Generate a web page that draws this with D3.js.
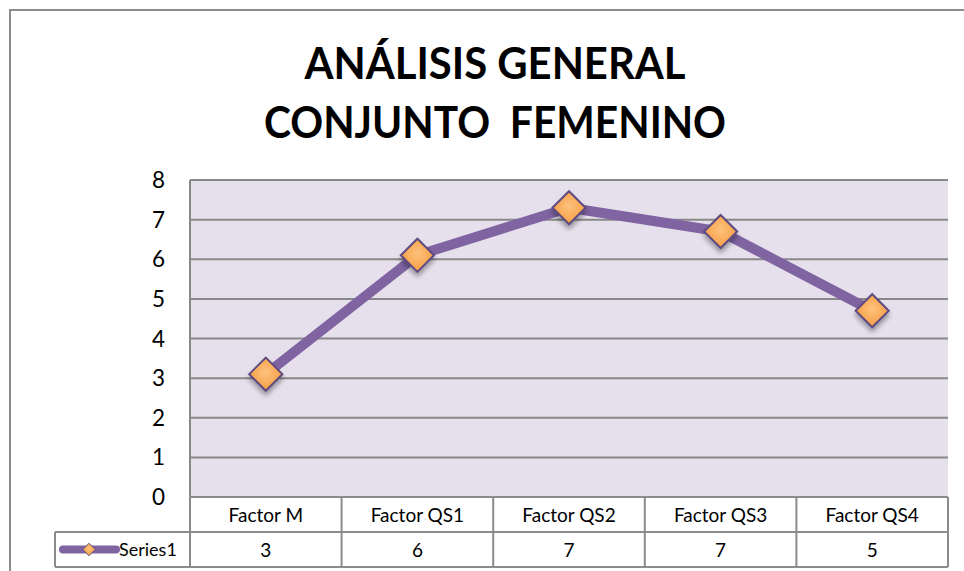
<!DOCTYPE html>
<html>
<head>
<meta charset="utf-8">
<script src="https://cdn.jsdelivr.net/npm/d3@7"></script>
<style>
  body { margin: 0; background: #fff; }
  svg { display: block; }
</style>
</head>
<body>
<script>
// chart data
var categories = ["Factor M", "Factor QS1", "Factor QS2", "Factor QS3", "Factor QS4"];
var seriesValues = [3.1, 6.1, 7.3, 6.7, 4.7];
var tableLabels = ["3", "6", "7", "7", "5"];
var yTicks = [0, 1, 2, 3, 4, 5, 6, 7, 8];
var seriesName = "Series1";
var titleLines = ["ANÁLISIS GENERAL", "CONJUNTO  FEMENINO"];

var W = 964, H = 571;
var plot = { left: 190, right: 948, top: 180, bottom: 497 };
var rowH = 35;
var font = "Lato, 'Open Sans', sans-serif";

var svg = d3.select("body").append("svg")
    .attr("width", W)
    .attr("height", H);

var defs = svg.append("defs");
var grad = defs.append("radialGradient").attr("id", "mk")
    .attr("cx", "50%").attr("cy", "45%").attr("r", "60%");
grad.append("stop").attr("offset", "0%").attr("stop-color", "#fdc27e");
grad.append("stop").attr("offset", "100%").attr("stop-color", "#f59a3c");
var shadow = defs.append("filter").attr("id", "sh")
    .attr("x", "-50%").attr("y", "-50%").attr("width", "200%").attr("height", "200%");
shadow.append("feGaussianBlur").attr("in", "SourceAlpha").attr("stdDeviation", 2.5);
shadow.append("feOffset").attr("dy", 4).attr("result", "b");
shadow.append("feComponentTransfer").append("feFuncA").attr("type", "linear").attr("slope", 0.35);
var merge = shadow.append("feMerge");
merge.append("feMergeNode");
merge.append("feMergeNode").attr("in", "SourceGraphic");

// outer chart border (runs past the window on right and bottom)
svg.append("rect")
    .attr("x", 10).attr("y", 10)
    .attr("width", 1000).attr("height", 700)
    .attr("fill", "none")
    .attr("stroke", "#8c8c8c")
    .attr("stroke-width", 2);

// title
var titleWidths = [381, 462];
svg.append("g").selectAll("text")
    .data(titleLines)
    .join("text")
    .attr("x", 495)
    .attr("y", function (d, i) { return 79 + i * 59; })
    .attr("text-anchor", "middle")
    .attr("font-family", font)
    .attr("font-weight", "bold")
    .attr("font-size", 44)
    .attr("fill", "#000")
    .attr("textLength", function (d, i) { return titleWidths[i]; })
    .attr("lengthAdjust", "spacingAndGlyphs")
    .style("white-space", "pre")
    .text(function (d) { return d; });

var x = d3.scaleBand()
    .domain(categories)
    .range([plot.left, plot.right]);

var y = d3.scaleLinear()
    .domain([0, 8])
    .range([plot.bottom, plot.top]);

// plot background
svg.append("rect")
    .attr("x", plot.left).attr("y", plot.top)
    .attr("width", plot.right - plot.left)
    .attr("height", plot.bottom - plot.top)
    .attr("fill", "#e5e0ec");

// gridlines
svg.append("g").selectAll("line")
    .data(yTicks.filter(function (d) { return d > 0; }))
    .join("line")
    .attr("x1", plot.left).attr("x2", plot.right)
    .attr("y1", function (d) { return y(d); })
    .attr("y2", function (d) { return y(d); })
    .attr("stroke", "#888")
    .attr("stroke-width", 2);

// left axis line
svg.append("line")
    .attr("x1", plot.left).attr("x2", plot.left)
    .attr("y1", plot.top).attr("y2", plot.bottom)
    .attr("stroke", "#888")
    .attr("stroke-width", 2);

// y tick labels
svg.append("g").selectAll("text")
    .data(yTicks)
    .join("text")
    .attr("x", 165)
    .attr("y", function (d) { return y(d) + 8; })
    .attr("text-anchor", "end")
    .attr("font-family", font)
    .attr("font-size", 22.5)
    .attr("fill", "#000")
    .text(function (d) { return d; });

// line
var line = d3.line()
    .x(function (d, i) { return x(categories[i]) + x.bandwidth() / 2; })
    .y(function (d) { return y(d); });

svg.append("path")
    .datum(seriesValues)
    .attr("d", line)
    .attr("fill", "none")
    .attr("stroke", "#8064a2")
    .attr("stroke-width", 10)
    .attr("stroke-linejoin", "round");

// markers
var diamond = d3.symbol().type(d3.symbolDiamond2).size(700);
svg.append("g").selectAll("path")
    .data(seriesValues)
    .join("path")
    .attr("transform", function (d, i) {
        return "translate(" + (x(categories[i]) + x.bandwidth() / 2) + "," + y(d) + ")";
    })
    .attr("d", diamond)
    .attr("fill", "url(#mk)")
    .attr("stroke", "#5e4a80")
    .attr("stroke-width", 2)
    .attr("filter", "url(#sh)");

// data table
var tbl = svg.append("g");
var r1 = plot.bottom, r2 = plot.bottom + rowH, r3 = plot.bottom + 2 * rowH;

tbl.append("g").selectAll("text")
    .data(categories)
    .join("text")
    .attr("x", function (d) { return x(d) + x.bandwidth() / 2; })
    .attr("y", r1 + 25)
    .attr("text-anchor", "middle")
    .attr("font-family", font)
    .attr("font-size", 19)
    .attr("fill", "#000")
    .text(function (d) { return d; });

tbl.append("g").selectAll("text")
    .data(tableLabels)
    .join("text")
    .attr("x", function (d, i) { return x(categories[i]) + x.bandwidth() / 2; })
    .attr("y", r2 + 25)
    .attr("text-anchor", "middle")
    .attr("font-family", font)
    .attr("font-size", 19)
    .attr("fill", "#000")
    .text(function (d) { return d; });

// table grid
var gridColor = "#8c8c8c";
function hline(x1, x2, yy) {
    tbl.append("line").attr("x1", x1).attr("x2", x2).attr("y1", yy).attr("y2", yy)
        .attr("stroke", gridColor).attr("stroke-width", 2);
}
function vline(xx, y1, y2) {
    tbl.append("line").attr("x1", xx).attr("x2", xx).attr("y1", y1).attr("y2", y2)
        .attr("stroke", gridColor).attr("stroke-width", 2);
}
hline(plot.left, plot.right, r1);
hline(55, plot.right, r2);
hline(55, plot.right, r3);
vline(55, r2, r3);
categories.forEach(function (c) { vline(x(c), r1, r3); });
vline(plot.right, r1, r3);

// legend key in table
var ky = r2 + rowH / 2;
tbl.append("line")
    .attr("x1", 63).attr("x2", 116)
    .attr("y1", ky).attr("y2", ky)
    .attr("stroke", "#8064a2")
    .attr("stroke-width", 8)
    .attr("stroke-linecap", "round");
tbl.append("path")
    .attr("transform", "translate(89," + ky + ")")
    .attr("d", d3.symbol().type(d3.symbolDiamond2).size(100))
    .attr("fill", "url(#mk)")
    .attr("stroke", "#5e4a80")
    .attr("stroke-width", 1);
tbl.append("text")
    .attr("x", 119)
    .attr("y", r2 + 24)
    .attr("font-family", font)
    .attr("font-size", 18)
    .attr("fill", "#000")
    .text(seriesName);
</script>
</body>
</html>
